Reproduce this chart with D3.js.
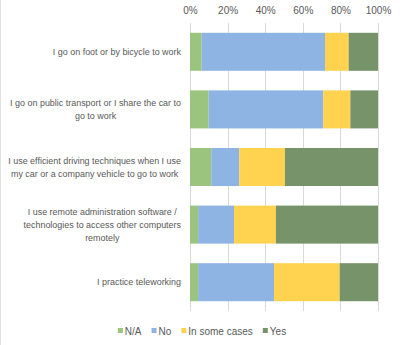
<!DOCTYPE html>
<html lang="en">
<head>
    <meta charset="UTF-8">
    <title>Sustainable commuting habits</title>
    <script src="https://d3js.org/d3.v7.min.js"></script>
    <style>
        body {
            margin: 0;
            background-color: #fff;
        }
    </style>
</head>
<body>

<svg id="chart" width="400" height="345"></svg>

<script>
    // data (percent of respondents)
    var categories = [
        ["I go on foot or by bicycle to work"],
        ["I go on public transport or I share the car to", "go to work"],
        ["I use efficient driving techniques when I use", "my car or a company vehicle to go to work"],
        ["I use remote administration software /", "technologies to access other computers", "remotely"],
        ["I practice teleworking"]
    ];
    var series = ["N/A", "No", "In some cases", "Yes"];
    var naValues = [6.2, 9.9, 11.3, 4.3, 4.3];
    var noValues = [65.6, 61.0, 14.9, 19.1, 40.4];
    var someValues = [12.6, 14.4, 24.3, 22.3, 34.9];
    var yesValues = [15.6, 14.7, 49.5, 54.3, 20.4];
    var tickValues = [0, 20, 40, 60, 80, 100];
    var colors = ["#9bc47f", "#8db4e2", "#ffd24f", "#77936a"];
    var fontStack = "Liberation Sans, Arial, sans-serif";
    var fontSize = 10;
    var labelRoom = 173; // widest label line may not pass this many pixels
    var textColor = "#595959";

    var svg = d3.select("#chart"),
        margin = {top: 23, right: 22, bottom: 34, left: 190},
        width = +svg.attr("width") - margin.left - margin.right,
        height = +svg.attr("height") - margin.top - margin.bottom;

    // faint chart frame edge on the left
    svg.append("line").attr("x1", 0.5).attr("x2", 0.5).attr("y1", 0).attr("y2", 345)
        .attr("stroke", "#e3e3e3");

    var rows = categories.map(function(c, i) {
        return {key: i, "N/A": naValues[i], "No": noValues[i], "In some cases": someValues[i], "Yes": yesValues[i]};
    });
    var stacked = d3.stack().keys(series)(rows);

    var x = d3.scaleLinear().domain([0, 100]).range([0, width]);
    var y = d3.scaleBand().domain(d3.range(categories.length)).range([0, height]).paddingInner(0.34).paddingOuter(0.17);

    var g = svg.append("g").attr("transform", "translate(" + margin.left + "," + margin.top + ")");

    // gridlines
    g.selectAll(".grid").data(tickValues).enter().append("line")
        .attr("x1", function(d) { return Math.round(x(d)) + 0.5; })
        .attr("x2", function(d) { return Math.round(x(d)) + 0.5; })
        .attr("y1", 0).attr("y2", height)
        .attr("stroke", "#d9d9d9");

    // top axis labels
    var axis = g.append("g").call(d3.axisTop(x).tickValues(tickValues).tickFormat(function(d) { return d + "%"; }).tickSize(0).tickPadding(9));
    axis.attr("font-family", fontStack).attr("font-size", fontSize);
    axis.select(".domain").remove();
    axis.selectAll("text").attr("fill", textColor);

    // bars
    g.selectAll(".layer").data(stacked).enter().append("g")
        .attr("fill", function(d, i) { return colors[i]; })
        .selectAll("rect").data(function(d) { return d; }).enter().append("rect")
        .attr("x", function(d) { return x(d[0]); })
        .attr("y", function(d) { return y(d.data.key); })
        .attr("width", function(d) { return x(d[1]) - x(d[0]); })
        .attr("height", y.bandwidth());

    // category labels
    var labels = g.selectAll(".cat").data(categories).enter().append("text")
        .attr("text-anchor", "end")
        .attr("font-family", fontStack)
        .attr("font-size", fontSize)
        .attr("fill", textColor);
    labels.selectAll("tspan").data(function(d) { return d; }).enter().append("tspan")
        .attr("x", 0)
        .text(function(d) { return d; });

    // shrink the label font until the widest line fits left of the bars
    var widest = d3.max(labels.selectAll("tspan").nodes(), function(s) { return s.getComputedTextLength(); });
    var labelSize = Math.min(fontSize, fontSize * labelRoom / widest);
    var lineStep = 13;
    labels.attr("font-size", labelSize)
        .attr("transform", function(d, i) {
            var cy = y(i) + y.bandwidth() / 2 - (d.length - 1) * lineStep / 2;
            return "translate(-9," + cy + ")";
        });
    labels.selectAll("tspan").attr("dy", function(d, j) { return j === 0 ? "0.35em" : lineStep; });

    // wrapped lines are centred under the widest line
    labels.each(function(d) {
        if (d.length < 2) return;
        var spans = d3.select(this).selectAll("tspan").nodes();
        var wMax = d3.max(spans, function(s) { return s.getComputedTextLength(); });
        spans.forEach(function(s) {
            var w = s.getComputedTextLength();
            d3.select(s).attr("x", -(wMax - w) / 2);
        });
    });

    // legend, laid out left to right and centred under the chart
    var legend = svg.append("g").attr("transform", "translate(0,331)");
    var items = legend.selectAll(".item").data(series).enter().append("g");
    items.append("rect").attr("x", 0).attr("y", -3).attr("width", 5).attr("height", 5)
        .attr("fill", function(d, i) { return colors[i]; });
    items.append("text").attr("x", 7).attr("dy", "0.35em")
        .attr("font-family", fontStack).attr("font-size", fontSize).attr("fill", textColor)
        .text(function(d) { return d; });
    var offsets = [], cursor = 0;
    items.each(function() {
        offsets.push(cursor);
        cursor += 7 + d3.select(this).select("text").node().getComputedTextLength() + 10;
    });
    var start = 202 - (cursor - 10) / 2;
    items.attr("transform", function(d, i) { return "translate(" + (start + offsets[i]) + ",0)"; });
</script>
</body>
</html>
